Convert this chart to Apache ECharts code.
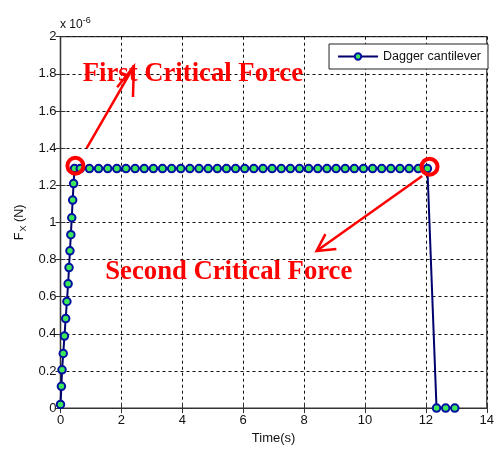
<!DOCTYPE html>
<html>
<head>
<meta charset="utf-8">
<script src="https://cdn.jsdelivr.net/npm/echarts@6/dist/echarts.min.js"></script>
<style>html,body{margin:0;padding:0;background:#fff}#c{width:497px;height:450px}</style>
</head>
<body>
<div id="c"></div>
<script>
// ---- data (force in units of 1e-6 N) ----
const seriesName = 'Dagger cantilever';
const timeRise  = [0, 0.03, 0.05, 0.09, 0.13, 0.17, 0.21, 0.25, 0.28, 0.31, 0.34, 0.37, 0.40, 0.43, 0.46];
const forceRise = [0.02, 0.117, 0.206, 0.294, 0.388, 0.482, 0.574, 0.669, 0.757, 0.847, 0.934, 1.025, 1.12, 1.209, 1.29];
const timeFlat  = [0.65, 0.95, 1.25, 1.55, 1.85, 2.15, 2.45, 2.75, 3.05, 3.35, 3.65, 3.95, 4.25, 4.55, 4.85, 5.15, 5.45, 5.75, 6.05, 6.35,
                   6.65, 6.95, 7.25, 7.55, 7.85, 8.15, 8.45, 8.75, 9.05, 9.35, 9.65, 9.95, 10.25, 10.55, 10.85, 11.15, 11.45, 11.75, 12.05];
const forceFlat = [1.29, 1.29, 1.29, 1.29, 1.29, 1.29, 1.29, 1.29, 1.29, 1.29, 1.29, 1.29, 1.29, 1.29, 1.29, 1.29, 1.29, 1.29, 1.29, 1.29,
                   1.29, 1.29, 1.29, 1.29, 1.29, 1.29, 1.29, 1.29, 1.29, 1.29, 1.29, 1.29, 1.29, 1.29, 1.29, 1.29, 1.29, 1.29, 1.29];
const timeDrop  = [12.35, 12.65, 12.95];
const forceDrop = [0, 0, 0];
const xTicks = [0, 2, 4, 6, 8, 10, 12, 14];
const yTickLabels = ['0', '0.2', '0.4', '0.6', '0.8', '1', '1.2', '1.4', '1.6', '1.8', '2'];
const annotationTexts = ['First Critical Force', 'Second Critical Force'];

const times = timeRise.concat(timeFlat, timeDrop);
const forces = forceRise.concat(forceFlat, forceDrop);
const points = times.map((t, i) => [t, forces[i]]);

const chart = echarts.init(document.getElementById('c'), null, {renderer: 'canvas'});
const font = 'Liberation Sans, Arial, sans-serif';
const axisCommon = {
  axisLine: {lineStyle: {color: '#333', width: 1.2}},
  axisTick: {inside: true, length: 5, lineStyle: {color: '#333'}},
};
const option = {
  animation: false,
  backgroundColor: '#fff',
  grid: {left: 60.5, right: 4.5, top: 36.7, bottom: 36.7, show: true, borderColor: '#333', borderWidth: 1.2},
  legend: {
    right: 9, top: 44, orient: 'horizontal',
    backgroundColor: '#fff', borderColor: '#222', borderWidth: 1, borderRadius: 0,
    padding: [6, 7, 6, 8], itemWidth: 40, itemHeight: 8, itemGap: 5,
    textStyle: {fontFamily: font, fontSize: 12.5, color: '#111'},
    data: [seriesName]
  },
  xAxis: [
    Object.assign({type: 'value', min: xTicks[0], max: xTicks[xTicks.length - 1], interval: 2,
      name: 'Time(s)', nameLocation: 'middle', nameGap: 23,
      nameTextStyle: {fontFamily: font, fontSize: 13, color: '#111'},
      axisLabel: {fontFamily: font, fontSize: 13, color: '#111', margin: 6},
      splitLine: {show: true, lineStyle: {color: '#111', type: [3, 3], width: 1}}}, axisCommon),
    Object.assign({type: 'value', position: 'top', min: 0, max: 14, interval: 2,
      axisLabel: {show: false}, splitLine: {show: false}}, axisCommon)
  ],
  yAxis: [
    Object.assign({type: 'value', min: 0, max: 2, interval: 0.2,
      name: '{a|F}{s|X}{a| (N)}', nameLocation: 'middle', nameGap: 32, nameRotate: 90,
      nameTextStyle: {rich: {
        a: {fontFamily: font, fontSize: 12.5, color: '#111'},
        s: {fontFamily: font, fontSize: 9, color: '#111', padding: [7, 0, 0, 1]}
      }},
      axisLabel: {fontFamily: font, fontSize: 13, color: '#111', margin: 4,
        formatter: (v) => yTickLabels[Math.round(v / 0.2)]},
      splitLine: {show: true, lineStyle: {color: '#111', type: [3, 3], width: 1}}}, axisCommon),
    Object.assign({type: 'value', position: 'right', min: 0, max: 2, interval: 0.2,
      axisLabel: {show: false}, splitLine: {show: false}}, axisCommon)
  ],
  series: [{
    name: seriesName, type: 'line', data: points,
    xAxisIndex: 0, yAxisIndex: 0,
    symbol: 'circle', symbolSize: 7.5, showAllSymbol: true, clip: false,
    lineStyle: {color: '#00006e', width: 2},
    itemStyle: {color: '#3be85a', borderColor: '#0010a0', borderWidth: 2},
    z: 3
  }]
};
chart.setOption(option);

// annotation anchors in data coordinates
const circleCenters = [[0.49, 1.305], [12.12, 1.30]];
const arrows = [
  {from: [0.86, 1.40], tip: [2.41, 1.84], h1: [1.86, 1.728], h2: [2.38, 1.675]},
  {from: [11.88, 1.25], tip: [8.41, 0.846], h1: [8.70, 0.937], h2: [9.06, 0.857]}
];
const textAnchors = [[0.73, 1.80], [1.47, 0.732]];

const px = (p) => chart.convertToPixel({gridIndex: 0}, p);
const graphics = [];
circleCenters.forEach(c => {
  const p = px(c);
  graphics.push({type: 'circle', shape: {cx: p[0], cy: p[1], r: 8}, style: {fill: 'none', stroke: '#ff0000', lineWidth: 4}, z: 10});
});
arrows.forEach(a => {
  const f = px(a.from), t = px(a.tip), h1 = px(a.h1), h2 = px(a.h2);
  graphics.push({type: 'polyline', shape: {points: [f, t]}, style: {stroke: '#ff0000', lineWidth: 2.5, fill: 'none'}, z: 10});
  graphics.push({type: 'polyline', shape: {points: [h1, t, h2]}, style: {stroke: '#ff0000', lineWidth: 2.5, fill: 'none'}, z: 10});
});
textAnchors.forEach((a, i) => {
  const p = px(a);
  graphics.push({type: 'text', x: p[0], y: p[1], style: {text: annotationTexts[i], fill: '#ff0000',
    font: 'bold 26.7px "Liberation Serif", "Times New Roman", serif', textAlign: 'left', textVerticalAlign: 'middle'}, z: 10});
});
graphics.push({type: 'text', x: 60, y: 25, style: {text: '{a|x 10}{s|-6}', verticalAlign: 'middle',
  rich: {a: {fontFamily: font, fontSize: 12, fill: '#111'}, s: {fontFamily: font, fontSize: 9, fill: '#111', padding: [0, 0, 8, 0]}}}, z: 10});
chart.setOption({graphic: graphics});
</script>
</body>
</html>
